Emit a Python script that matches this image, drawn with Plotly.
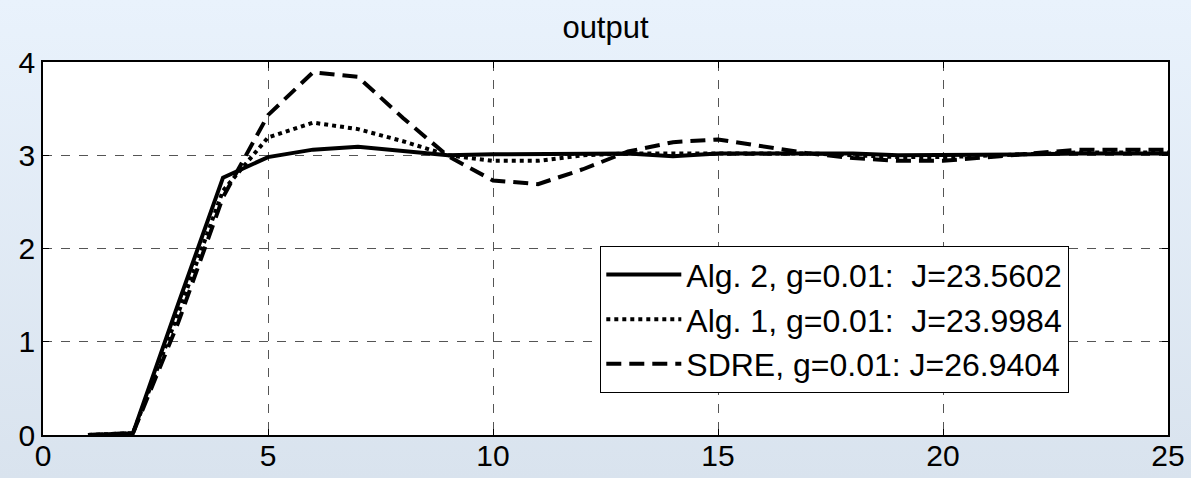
import base64
import plotly.graph_objects as go

t = list(range(1, 26))
alg2 = [0, 0.02, 1.40, 2.76, 2.98, 3.06, 3.09, 3.05, 3.00, 3.01, 3.01, 3.02, 3.02, 2.99, 3.02,
        3.02, 3.02, 3.02, 3.00, 3.00, 3.00, 3.01, 3.02, 3.02, 3.02]
alg1 = [0, 0.02, 1.30, 2.62, 3.19, 3.35, 3.28, 3.15, 3.00, 2.94, 2.94, 3.00, 3.02, 3.02, 3.02,
        3.02, 3.02, 3.00, 2.98, 2.98, 3.00, 3.02, 3.03, 3.03, 3.03]
sdre = [0, 0.02, 1.20, 2.55, 3.43, 3.89, 3.84, 3.40, 2.99, 2.73, 2.69, 2.85, 3.04, 3.14, 3.17,
        3.10, 3.02, 2.97, 2.94, 2.94, 2.98, 3.03, 3.06, 3.06, 3.06]

names = ["Alg. 2, g=0.01:\u00a0 J=23.5602",
         "Alg. 1, g=0.01:\u00a0 J=23.9984",
         "SDRE, g=0.01: J=26.9404"]
xticks = [0, 5, 10, 15, 20, 25]
yticks = [0, 1, 2, 3, 4]

W, H = 1191, 478
ml, mr, mt, mb = 43, 23, 62, 43
pw, ph = W - ml - mr, H - mt - mb

fig = go.Figure()
for y, n, d in [(alg2, names[0], "solid"), (alg1, names[1], "4px,4px"), (sdre, names[2], "15px,8px")]:
    fig.add_trace(go.Scatter(x=t, y=y, mode="lines", name=n,
                             line=dict(color="black", width=4, dash=d)))

svg = ('<svg xmlns="http://www.w3.org/2000/svg" width="100" height="100" preserveAspectRatio="none">'
       '<defs><linearGradient id="g" x1="0" y1="0" x2="0" y2="1">'
       '<stop offset="0" stop-color="#e9f2fc"/><stop offset="1" stop-color="#d9e3ee"/>'
       '</linearGradient></defs><rect width="100" height="100" fill="url(#g)"/></svg>')
src = "data:image/svg+xml;base64," + base64.b64encode(svg.encode()).decode()

fig.update_layout(
    width=W, height=H,
    margin=dict(l=ml, r=mr, t=mt, b=mb, autoexpand=False),
    paper_bgcolor="#e1eaf5",
    plot_bgcolor="white",
    font=dict(family="Liberation Sans, Arial, sans-serif", color="black", size=30),
    title=dict(text="output", x=(ml + pw / 2) / W, xanchor="center", y=1 - 27 / H, yanchor="middle",
               font=dict(size=31), automargin=False),
    images=[dict(source=src, xref="paper", yref="paper", x=-ml / pw, y=1 + mt / ph,
                 sizex=W / pw, sizey=H / ph, sizing="stretch", xanchor="left", yanchor="top",
                 layer="below")],
    shapes=[dict(type="rect", xref="paper", yref="paper", x0=0, x1=1, y0=0, y1=1,
                 fillcolor="white", line=dict(width=0), layer="below")],
    legend=dict(x=(600 - ml) / pw, y=1 - (246 - mt) / ph, xanchor="left", yanchor="top",
                bgcolor="white", bordercolor="black", borderwidth=1.3,
                font=dict(size=32), tracegroupgap=0, itemwidth=75),
    showlegend=True,
)
fig.update_xaxes(range=[0, 25], tickvals=xticks, ticks="inside", ticklen=6, tickcolor="black",
                 showline=True, linecolor="black", linewidth=1.5, mirror="ticks",
                 showgrid=True, gridcolor="#555555", griddash="dash", gridwidth=1,
                 zeroline=False, tickfont=dict(size=30), automargin=False,
                 ticklabelstandoff=-7)
fig.update_yaxes(range=[0, 4], tickvals=yticks, ticks="inside", ticklen=6, tickcolor="black",
                 showline=True, linecolor="black", linewidth=1.5, mirror="ticks",
                 showgrid=True, gridcolor="#555555", griddash="dash", gridwidth=1,
                 zeroline=False, tickfont=dict(size=30), automargin=False)

fig.write_html("out.html")
